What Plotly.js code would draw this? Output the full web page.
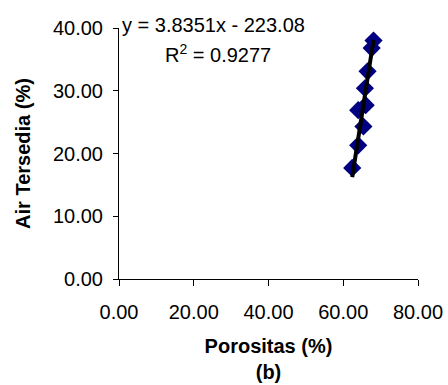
<!DOCTYPE html>
<html><head><meta charset="utf-8">
<script src="https://cdn.plot.ly/plotly-3.0.1.min.js"></script>
<style>html,body{margin:0;padding:0;background:#fff}#c{width:448px;height:385px}</style>
</head><body><div id="c"></div>
<script>
const porositas = [62.4, 64.0, 65.4, 64.0, 66.0, 65.8, 66.5, 67.6, 68.1];
const airTersedia = [17.7, 21.3, 24.3, 26.9, 27.7, 30.4, 33.1, 36.8, 38.0];
const slope = 3.8351, intercept = -223.08;
const eqText = "y = 3.8351x - 223.08";
const r2Text = "R<sup>2</sup> = 0.9277";
const xTicks = [0, 20, 40, 60, 80];
const yTicks = [0, 10, 20, 30, 40];

const xmin = Math.min(...porositas), xmax = Math.max(...porositas);
const trendX = [xmin, xmax];
const trendY = trendX.map(v => slope * v + intercept);
const F = "Liberation Sans, Arial, sans-serif";

Plotly.newPlot('c', [
  {x: porositas, y: airTersedia, type: 'scatter', mode: 'markers',
   marker: {symbol: 'diamond', size: 14, color: '#000080'}, cliponaxis: false},
  {x: trendX, y: trendY, type: 'scatter', mode: 'lines',
   line: {color: '#000', width: 4}, cliponaxis: false}
], {
  width: 448, height: 385, showlegend: false,
  paper_bgcolor: '#fff', plot_bgcolor: '#fff',
  margin: {l: 118.5, r: 30, t: 28, b: 105.5},
  font: {family: F, size: 20, color: '#000'},
  xaxis: {range: [0, 80], tickvals: xTicks, ticktext: xTicks.map(v => v.toFixed(2)),
    showgrid: false, zeroline: false, showline: true, linecolor: '#000', linewidth: 1,
    ticks: 'outside', ticklen: 6, tickcolor: '#000', ticklabelstandoff: 9,
    title: {text: '<b>Porositas (%)</b><br><b>(b)</b>', font: {size: 20}, standoff: 16}},
  yaxis: {range: [0, 40], tickvals: yTicks, ticktext: yTicks.map(v => v.toFixed(2)),
    showgrid: false, zeroline: false, showline: true, linecolor: '#000', linewidth: 1,
    ticks: 'outside', ticklen: 5, tickcolor: '#000', ticklabelstandoff: 6,
    title: {text: '<b>Air Tersedia (%)</b>', font: {size: 20}, standoff: 16}},
  annotations: [
    {text: eqText, xref: 'paper', yref: 'paper', x: 0.005, y: 1.01, xanchor: 'left', yanchor: 'middle', showarrow: false, font: {size: 20}},
    {text: r2Text, xref: 'paper', yref: 'paper', x: 0.148, y: 0.9, xanchor: 'left', yanchor: 'middle', showarrow: false, font: {size: 20}}
  ]
}, {displayModeBar: false, staticPlot: true});
</script></body></html>
